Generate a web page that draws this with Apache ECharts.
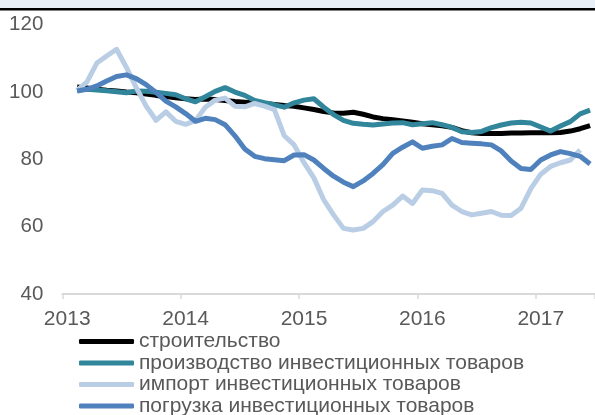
<!DOCTYPE html>
<html>
<head>
<meta charset="utf-8">
<script src="https://cdn.jsdelivr.net/npm/echarts@6/dist/echarts.min.js"></script>
<style>
html,body{margin:0;padding:0;background:#fff;}
#c{width:595px;height:415px;}
</style>
</head>
<body>
<div id="c"></div>
<script>
// Monthly categories, Jan 2013 .. Jun 2017
var months = [
 '2013-01','2013-02','2013-03','2013-04','2013-05','2013-06','2013-07','2013-08','2013-09','2013-10','2013-11','2013-12',
 '2014-01','2014-02','2014-03','2014-04','2014-05','2014-06','2014-07','2014-08','2014-09','2014-10','2014-11','2014-12',
 '2015-01','2015-02','2015-03','2015-04','2015-05','2015-06','2015-07','2015-08','2015-09','2015-10','2015-11','2015-12',
 '2016-01','2016-02','2016-03','2016-04','2016-05','2016-06','2016-07','2016-08','2016-09','2016-10','2016-11','2016-12',
 '2017-01','2017-02','2017-03','2017-04','2017-05','2017-06'
];
var seriesNames = [
 'строительство',
 'производство инвестиционных товаров',
 'импорт инвестиционных товаров',
 'погрузка инвестиционных товаров'
];
// values from Feb 2013 onward
var construction = [
 101.5,101.2,100.8,100.5,100.3,100.0,99.8,99.4,99.0,98.7,98.3,
 98.0,97.8,97.9,97.8,97.5,97.2,97.0,96.8,96.6,96.3,96.0,95.8,
 95.3,94.8,94.2,93.8,93.7,94.0,93.4,92.6,92.1,91.8,91.4,91.0,
 90.6,90.3,90.0,89.5,88.5,87.9,87.7,87.7,87.7,87.8,87.8,87.9,
 87.9,87.9,88.0,88.4,89.1,90.0
];
var production = [
 100.6,100.8,100.6,100.4,100.1,99.8,100.3,100.2,99.9,99.6,99.2,
 98.0,97.1,98.6,100.2,101.3,100.0,99.0,97.5,96.8,96.2,95.5,96.8,
 97.6,98.0,95.5,93.3,91.6,90.7,90.4,90.2,90.5,90.8,90.9,90.3,
 90.6,90.9,90.3,89.5,88.2,88.0,88.3,89.4,90.2,90.8,91.0,90.8,
 89.6,88.4,89.9,91.2,93.5,94.6
];
var imports = [
 100.5,103.0,108.6,110.7,112.7,107.3,101.3,95.8,91.6,94.1,91.3,
 90.4,91.5,95.5,97.6,98.2,95.8,95.6,96.6,95.8,94.8,87.0,84.3,
 79.0,74.5,68.0,63.5,59.5,59.0,59.5,61.5,64.5,66.4,69.1,66.9,
 70.9,70.7,69.9,66.4,64.5,63.5,64.0,64.5,63.4,63.3,65.5,71.3,
 75.6,77.9,79.0,79.8,82.8
];
var loading = [
 100.3,100.8,101.8,103.3,104.6,105.1,104.0,102.2,99.9,97.3,95.6,
 93.6,91.3,92.2,91.8,90.3,87.0,83.1,80.9,80.2,79.9,79.6,81.3,
 81.4,79.8,77.3,75.0,73.2,71.9,73.6,75.8,78.4,81.8,83.6,85.2,
 83.3,83.9,84.3,86.2,85.0,84.8,84.6,84.3,82.5,79.5,77.3,77.0,
 79.8,81.3,82.3,81.7,80.9,78.6
];
var yTicks = [40, 60, 80, 100, 120];
var colors = ['#000000', '#31869b', '#b9cde5', '#4f81bd'];

function build(arr){ return [null].concat(arr); }
var allData = [construction, production, imports, loading];

var chart = echarts.init(document.getElementById('c'), null, {renderer:'canvas'});
var font = "'Liberation Sans', Arial, sans-serif";
var option = {
  animation: false,
  backgroundColor: '#ffffff',
  textStyle: {fontFamily: font},
  grid: {left: 62.3, right: -3.7, top: 24.7, bottom: 121, containLabel: false},
  xAxis: {
    type: 'category',
    data: months,
    boundaryGap: true,
    axisLine: {show: true, lineStyle: {color: '#d9d9d9', width: 2}},
    axisTick: {show: true, interval: 11, length: 5, lineStyle: {color: '#d9d9d9', width: 1.5}},
    axisLabel: {interval: 11, margin: 15, fontSize: 21, color: '#595959', fontFamily: font,
      formatter: function(v){ return v.slice(0,4); }},
    splitLine: {show: false}
  },
  yAxis: {
    type: 'value',
    min: yTicks[0], max: yTicks[yTicks.length-1], interval: 20,
    axisLine: {show: false}, axisTick: {show: false},
    splitLine: {show: false},
    axisLabel: {margin: 19, fontSize: 20.5, color: '#595959', fontFamily: font}
  },
  legend: {
    show: true,
    orient: 'vertical',
    left: 79, top: 331, height: 300, width: 520,
    itemWidth: 55, itemHeight: 5, itemGap: 0.5,
    icon: 'roundRect',
    padding: 0,
    data: seriesNames,
    textStyle: {fontSize: 21, color: '#595959', fontFamily: font, lineHeight: 20}
  },
  graphic: [
    {type: 'rect', left: 0, top: 0, shape: {x: 0, y: 0, width: 595, height: 8}, style: {fill: '#e8eff7'}},
    {type: 'line', shape: {x1: 0, y1: 9.3, x2: 595, y2: 9.3}, style: {stroke: '#000', lineWidth: 2.5}}
  ],
  series: seriesNames.map(function(n, i){
    return {
      name: n, type: 'line', data: build(allData[i]),
      showSymbol: false, symbol: 'none', smooth: false,
      connectNulls: false,
      color: colors[i],
      itemStyle: {color: colors[i]},
      lineStyle: {color: colors[i], width: 5, join: 'round'},
      z: 2 + i
    };
  })
};
chart.setOption(option);
</script>
</body>
</html>
